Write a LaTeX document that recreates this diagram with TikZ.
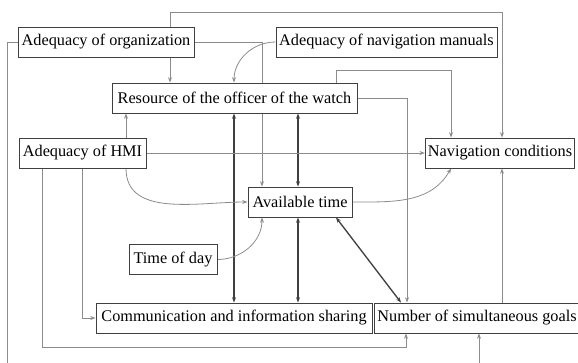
\documentclass[tikz,border=0pt]{standalone}
\usepackage{fontspec}
\setmainfont{Liberation Serif}
\usetikzlibrary{arrows.meta,backgrounds}

\begin{document}
\begin{tikzpicture}[x=0.75pt,y=-0.75pt,
            box/.style={draw=black!75, fill=white, line width=0.7pt,
                minimum height=22.5pt, inner sep=2pt,
                font=\fontsize{12.2}{14}\selectfont},
            link/.style={draw=black!45, line width=0.6pt,
                -{Stealth[length=4pt,width=3pt]}},
            tie/.style={draw=black!75, line width=1pt,
                {Stealth[length=4pt,width=3pt]}-{Stealth[length=4pt,width=3pt]}}]
    \useasboundingbox (0,0) rectangle (578,362);

    % factors
    \node[box, minimum width=132pt]   (org)   at (106,42)    {Adequacy of organization};
    \node[box, minimum width=165.75pt] (man)  at (386.5,42)  {Adequacy of navigation manuals};
    \node[box, minimum width=183.75pt] (row)  at (234.5,98)  {Resource of the officer of the watch};
    \node[box, minimum width=95.25pt] (hmi)   at (82.5,153)  {Adequacy of HMI};
    \node[box, minimum width=109.5pt] (nav)   at (500,153)   {Navigation conditions};
    \node[box, minimum width=78pt]    (avail) at (300,202)   {Available time};
    \node[box, minimum width=66pt]    (tod)   at (173,259.5) {Time of day};
    \node[box, minimum width=207pt]   (comm)  at (234,318)   {Communication and information sharing};
    \node[box, minimum width=150pt]   (goals) at (477,318)   {Number of simultaneous goals};

    \begin{scope}[on background layer]
        \clip (0,0) rectangle (578,362);
        % from organization
        \draw[link] (org.west) -- (7,0 |- org.west) -- (7,380) -| (479,0 |- goals.south);
        \draw[link] (170,0 |- org.north) -- (170,12) -| (502,0 |- nav.north);
        \draw[link] (170,0 |- org.south) -- (170,0 |- row.north);
        \draw[link] (org.east) -| (262,0 |- avail.north);
        % from manuals
        \draw[link] (man.west) to[out=180,in=90] (234,0 |- row.north);
        % from officer of the watch
        \draw[link] (336,0 |- row.north) -- (336,70) -| (451,0 |- nav.north);
        \draw[link] (row.east) -| (407,0 |- goals.north);
        \draw[tie] (234,0 |- row.south) -- (234,0 |- comm.north);
        \draw[tie] (298,0 |- row.south) -- (298,0 |- avail.north);
        % from HMI
        \draw[link] (126,0 |- hmi.north) -- (126,0 |- row.south);
        \draw[link] (126,0 |- hmi.south) to[out=-90,in=180] (avail.west);
        \draw[link] (hmi.east) -- (nav.west);
        \draw[link] (42,0 |- hmi.south) |- (406,347) -- (406,0 |- goals.south);
        \draw[link] (82,0 |- hmi.south) |- (comm.west);
        % from available time
        \draw[tie] (298,0 |- avail.south) -- (298,0 |- comm.north);
        \draw[tie] (336,0 |- avail.south) -- (401,0 |- goals.north);
        \draw[link] (avail.east) to[out=0,in=-120] (451,0 |- nav.south);
        % others
        \draw[link] (tod.east) to[out=0,in=-90] (262,0 |- avail.south);
        \draw[link] (502,0 |- goals.north) -- (502,0 |- nav.south);
    \end{scope}
\end{tikzpicture}
\end{document}
